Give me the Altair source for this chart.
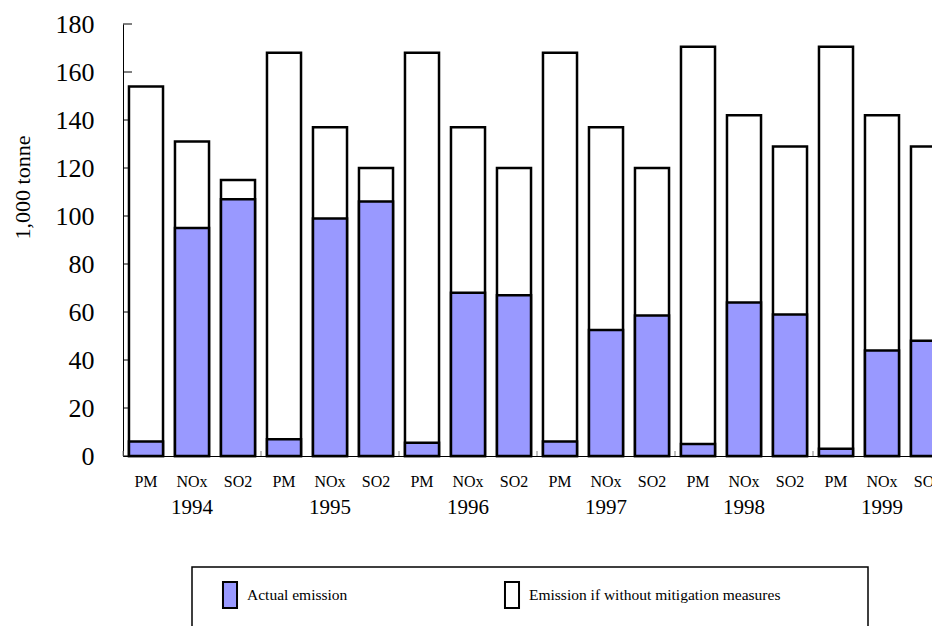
import altair as alt
import pandas as pd

years = ["1994", "1995", "1996", "1997", "1998", "1999"]
pollutants = ["PM", "NOx", "SO2"]
actual = [6, 95, 107, 7, 99, 106, 5.5, 68, 67, 6, 52.5, 58.5, 5, 64, 59, 3, 44, 48]
without_measures = [154, 131, 115, 168, 137, 120, 168, 137, 120, 168, 137, 120,
                    170.5, 142, 129, 170.5, 142, 129]
series = ["Actual emission", "Emission if without mitigation measures"]
y_ticks = [0, 20, 40, 60, 80, 100, 120, 140, 160, 180]

FONT = "Liberation Serif"

keys = [f"{y}-{p}" for y in years for p in pollutants]
rows = []
for i, k in enumerate(keys):
    rows.append({"key": k, "year": k.split("-")[0], "series": series[1],
                 "value": without_measures[i], "z": 0})
for i, k in enumerate(keys):
    rows.append({"key": k, "year": k.split("-")[0], "series": series[0],
                 "value": actual[i], "z": 1})
df = pd.DataFrame(rows)

W, H = 809, 432
RANGE = [0, 828]

yscale = alt.Scale(domain=[0, 180], nice=False, zero=True)

bars = alt.Chart(df).mark_bar(stroke="black", strokeWidth=2.5, opacity=1).encode(
    x=alt.X("key:N", sort=keys,
            scale=alt.Scale(range=RANGE, paddingInner=0.26, paddingOuter=0.13),
            axis=alt.Axis(title=None, labelExpr="split(datum.label, '-')[1]",
                          labelAngle=0, ticks=False, tickSize=0,
                          domainColor="black", domainWidth=1,
                          labelFont=FONT, labelFontSize=16, labelColor="black",
                          labelPadding=17)),
    y=alt.Y("value:Q", stack=None, scale=yscale,
            axis=alt.Axis(values=y_ticks, tickSize=0, ticks=False, grid=False,
                          domainColor="black", domainWidth=1,
                          labelFont=FONT, labelFontSize=26, labelColor="black",
                          labelPadding=29,
                          title="1,000 tonne", titleFont=FONT, titleFontSize=22,
                          titleFontWeight="normal", titleColor="black",
                          titleX=-94, titleY=163, titleBaseline="alphabetic",
                          titleAngle=270, titleAlign="center")),
    fill=alt.Fill("series:N",
                  scale=alt.Scale(domain=series, range=["#9999FF", "#FFFFFF"]),
                  legend=alt.Legend(orient="none", legendX=93, legendY=557,
                                    direction="horizontal", columns=2, title=None,
                                    symbolType="M-0.54,-1L0.54,-1L0.54,1L-0.54,1Z",
                                    symbolSize=676, symbolStrokeColor="black",
                                    symbolStrokeWidth=2, symbolOpacity=1,
                                    labelFont=FONT, labelFontSize=15.5,
                                    labelColor="black", labelOffset=3,
                                    columnPadding=150, padding=0, labelLimit=400)),
    order=alt.Order("z:Q"),
)

ytick_df = pd.DataFrame({"v": y_ticks})
yticks = alt.Chart(ytick_df).mark_rule(color="black", strokeWidth=1).encode(
    y=alt.Y("v:Q", scale=yscale),
    x=alt.value(0), x2=alt.value(9),
)

year_df = pd.DataFrame({"year": years})
year_ticks = alt.Chart(year_df).mark_rule(color="#808080", strokeWidth=1).encode(
    x=alt.X("year:N", bandPosition=0, sort=years,
            scale=alt.Scale(type="band", range=RANGE, paddingInner=0, paddingOuter=0),
            axis=alt.Axis(title=None, orient="bottom", domain=False, ticks=False,
                          tickSize=0, labelAngle=0, labelFont=FONT,
                          labelFontSize=21, labelColor="black", labelPadding=40)),
    y=alt.value(H - 5), y2=alt.value(H),
)

box_df = pd.DataFrame({"a": [0]})
legend_box = alt.Chart(box_df).mark_rect(fill="transparent", stroke="black",
                                         strokeWidth=1.5).encode(
    x=alt.value(69), x2=alt.value(745), y=alt.value(543), y2=alt.value(700),
)

chart = alt.layer(yticks, bars, year_ticks, legend_box).resolve_scale(
    x="independent"
).resolve_axis(x="independent").properties(
    width=W, height=H,
    background="white",
    autosize=alt.AutoSizeParams(type="none"),
    padding={"left": 115, "top": 16, "right": 0, "bottom": 170},
).configure_view(strokeWidth=0, stroke=None)

chart.save("out.html", embed_options={"renderer": "svg", "actions": False})
